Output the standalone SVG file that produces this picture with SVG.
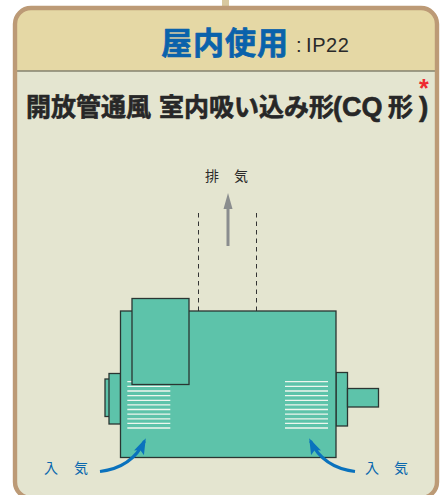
<svg xmlns="http://www.w3.org/2000/svg" width="441" height="495" viewBox="0 0 441 495">
<defs>
<style>
.jp{font-family:"Liberation Sans","Noto Sans CJK JP",sans-serif}
.head{font-weight:700;stroke-linejoin:round}
.part{fill:#5dc3aa;stroke:#2a3532;stroke-width:1.3}
.vent{stroke:#eef6ee;stroke-width:1.3;fill:none}
.dash{stroke:#333;stroke-width:1;stroke-dasharray:4.500 4;fill:none}
.flow{stroke:#0a72bd;stroke-width:3;fill:none}
.lbl{font-size:14px;fill:#0a68ae}
.ttl{font-size:25px;fill:#272727;stroke:#272727;stroke-width:.6}
</style>
<marker id="blueHead" markerUnits="userSpaceOnUse" markerWidth="18" markerHeight="14" refX="13" refY="7" orient="auto"><path d="M0 1.500L16 7L0 12.500L3 7Z" fill="#0a72bd"/></marker>
<path id="vents" class="vent" d="M0 381.700h43M0 386.300h43M0 391h43M0 395.600h43M0 400.300h43M0 404.900h43M0 409.500h43M0 414.100h43M0 418.800h43M0 423.400h43M0 428h43"/>
</defs>
<rect x="222" y="0" width="7" height="8" fill="#d8c8a0"/>
<g id="card">
<rect x="15" y="8" width="422" height="490" rx="16" fill="#e4e5d0"/>
<path d="M15 71V24a16 16 0 0 1 16-16H421a16 16 0 0 1 16 16V71Z" fill="#e5d8a5"/>
<path d="M15 71H437" stroke="#85826f" stroke-width="1.600"/>
<rect x="15" y="8" width="422" height="490" rx="16" fill="none" stroke="#bc9a76" stroke-width="4.400"/>
<text class="jp head" x="161" y="54" font-size="31" fill="#0a62ab" stroke="#0a62ab" stroke-width=".7" letter-spacing="1">屋内使用</text>
<text class="jp" x="296" y="52" font-size="20" fill="#2a2a2a">:</text>
<text class="jp" x="306" y="52" font-size="20" fill="#2a2a2a" letter-spacing=".6">IP22</text>
<text class="jp head ttl" x="26" y="116">開放管通風</text>
<text class="jp head ttl" x="159" y="116">室内吸い込み形</text>
<text class="jp head ttl" x="333" y="116" style="font-size:27px">(CQ</text>
<text class="jp head ttl" x="388" y="116">形</text>
<text class="jp head ttl" x="419" y="116" style="font-size:28px">)</text>
<text class="jp" x="419" y="97" font-size="25" font-weight="700" fill="#ee2a30">*</text>
</g>
<g id="connectors">
<path class="dash" d="M198.500 213V311"/>
<path class="dash" d="M256.500 213V311"/>
<path d="M228 246V207" stroke="#8a8d8e" stroke-width="3" fill="none"/>
<path d="M223.500 209L228 193L232.500 209Z" fill="#8a8d8e"/>
</g>
<g id="motor">
<rect class="part" x="105" y="379" width="5" height="37.500"/>
<rect class="part" x="109" y="373.500" width="11.500" height="50.500"/>
<rect class="part" x="336" y="372.500" width="11.500" height="53.500"/>
<rect class="part" x="347.500" y="388.500" width="31" height="18.500"/>
<rect class="part" x="120.500" y="311" width="215.500" height="146.500"/>
<use href="#vents" x="127.300"/>
<use href="#vents" x="285"/>
<rect class="part" x="132" y="298.500" width="57" height="86"/>
</g>
<g id="flows">
<path class="flow" d="M100 471.500C120 469 136 459 144.500 441" marker-end="url(#blueHead)"/>
<path class="flow" d="M355 471.500C335 469 319 459 310.500 441" marker-end="url(#blueHead)"/>
</g>
<g id="exhaust-label"><text class="jp" x="205" y="181" font-size="14" fill="#2a2a2a">排</text><text class="jp" x="234" y="181" font-size="14" fill="#2a2a2a">気</text></g>
<g id="intake-left"><text class="jp lbl" x="44" y="473">入</text><text class="jp lbl" x="74" y="473">気</text></g>
<g id="intake-right"><text class="jp lbl" x="365" y="473">入</text><text class="jp lbl" x="394" y="473">気</text></g>
</svg>
